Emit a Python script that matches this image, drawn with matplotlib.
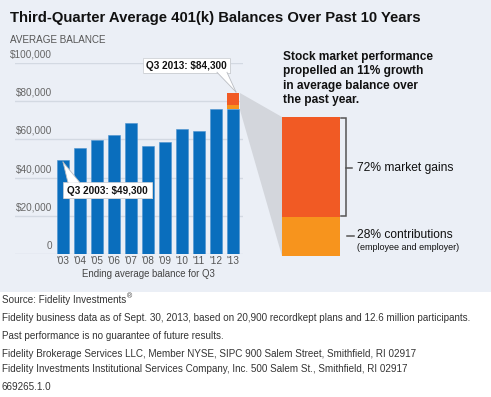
import matplotlib
matplotlib.use('Agg')
import matplotlib.pyplot as plt
from matplotlib.patches import Rectangle, Polygon
import matplotlib.transforms as mtrans

# ---------------- data ----------------
years = ["'03", "'04", "'05", "'06", "'07", "'08", "'09", "'10", "'11", "'12", "'13"]
balances = [49300, 55300, 59500, 62300, 68400, 56700, 58800, 65600, 64400, 75900, 84300]
growth_parts = ["market", "contributions"]
growth_shares = [72, 28]          # % of last year's growth
ytick_vals = [0, 20000, 40000, 60000, 80000, 100000]
ytick_labels = ["0", "$20,000", "$40,000", "$60,000", "$80,000", "$100,000"]

title = "Third-Quarter Average 401(k) Balances Over Past 10 Years"
heading = ["Stock market performance", "propelled an 11% growth",
           "in average balance over", "the past year."]
footer = ["Fidelity business data as of Sept. 30, 2013, based on 20,900 recordkept plans and 12.6 million participants.",
          "Past performance is no guarantee of future results.",
          "Fidelity Brokerage Services LLC, Member NYSE, SIPC 900 Salem Street, Smithfield, RI 02917",
          "Fidelity Investments Institutional Services Company, Inc. 500 Salem St., Smithfield, RI 02917",
          "669265.1.0"]

# ---------------- style ----------------
W, H = 491, 397
BG = '#ebeff6'
BLUE = '#0a6ebd'
RED = '#f15a24'
ORANGE = '#f7941d'
GRID = '#d3d9e2'
WEDGE = '#d3d6dc'
plt.rcParams['font.family'] = ['Liberation Sans', 'DejaVu Sans']

def pt(px):
    return px * 0.72

def fx(px):
    return px / W

def fy(py):
    return 1 - py / H

fig = plt.figure(figsize=(W / 100, H / 100), dpi=100)
fig.patch.set_facecolor('white')
fig.patches.append(Rectangle((0, fy(292)), 1, 292 / H, transform=fig.transFigure,
                             facecolor=BG, edgecolor='none', zorder=-10))

# ---------------- main bar chart ----------------
ax_l, ax_r, ax_t, ax_b = 15, 243, 63, 254
ax = fig.add_axes([fx(ax_l), fy(ax_b), (ax_r - ax_l) / W, (ax_b - ax_t) / H])
ax.set_facecolor('none')
step = 17.0
first_center = 63
ax.set_xlim((ax_l - first_center) / step, (ax_r - first_center) / step)
ax.set_ylim(0, 100000)
for s in ax.spines.values():
    s.set_visible(False)

xs = list(range(len(years)))
bw = 0.74
base = balances[:-1] + [balances[-2]]
ax.bar(xs, base, width=bw, color=BLUE, edgecolor='#4d93cf', linewidth=0.4, zorder=3)
growth = balances[-1] - balances[-2]
contrib = growth * growth_shares[1] / 100
market = growth * growth_shares[0] / 100
ax.bar(xs[-1], contrib, bottom=balances[-2], width=bw, color=ORANGE, zorder=3, linewidth=0)
ax.bar(xs[-1], market, bottom=balances[-2] + contrib, width=bw, color=RED, zorder=3, linewidth=0)

for v in ytick_vals:
    ax.axhline(v, color=GRID, lw=1.0, zorder=1)
ax.set_yticks([])
ytrans = mtrans.blended_transform_factory(ax.transAxes, ax.transData)
for v, lab in zip(ytick_vals, ytick_labels):
    ax.annotate(lab, xy=((52 - ax_l) / (ax_r - ax_l), v), xycoords=ytrans,
                xytext=(0, 2.5), textcoords='offset points',
                ha='right', va='bottom', fontsize=pt(10), color='#666666')

ax.set_xticks(xs)
ax.set_xticklabels(years, fontsize=pt(10), color='#555555')
ax.tick_params(axis='x', length=0, pad=1.5)

# ---------------- zoomed stacked bar ----------------
bx = fig.add_axes([fx(282), fy(256), 58 / W, 139 / H])
bx.set_facecolor('none')
bx.set_xlim(-0.5, 0.5)
bx.set_ylim(0, sum(growth_shares))
bx.bar(0, growth_shares[1], width=1, color=ORANGE, linewidth=0)
bx.bar(0, growth_shares[0], bottom=growth_shares[1], width=1, color=RED, linewidth=0)
bx.axis('off')

# ---------------- overlay (pixel coords) ----------------
ov = fig.add_axes([0, 0, 1, 1], zorder=10)
ov.set_xlim(0, W)
ov.set_ylim(H, 0)
ov.axis('off')
ov.patch.set_alpha(0)

ov.add_patch(Polygon([(240, 93), (282, 117), (282, 256), (240, 110)], closed=True,
                     facecolor=WEDGE, edgecolor='none', zorder=0))

ov.text(10, 18, title, fontsize=pt(14.9), fontweight='bold', color='#111111',
        ha='left', va='center')
ov.text(10, 40, "AVERAGE BALANCE", fontsize=pt(9.9), color='#555555',
        ha='left', va='center')
ov.text(148, 274, "Ending average balance for Q3", fontsize=pt(9.6), color='#444444',
        ha='center', va='center')

for i, line in enumerate(heading):
    ov.text(283, 57 + i * 14.3, line, fontsize=pt(11.9), fontweight='bold',
            color='#111111', ha='left', va='center')

# bracket
bc = '#555555'
ov.plot([341, 346, 346, 341], [118, 118, 216, 216], color=bc, lw=1.1, solid_joinstyle='miter')
ov.plot([346, 352], [168, 168], color=bc, lw=1.1)
ov.plot([347, 354], [236, 236], color=bc, lw=1.1)
ov.text(357, 168, f"{growth_shares[0]}% market gains", fontsize=pt(12), color='#111111',
        ha='left', va='center')
ov.text(357, 235, f"{growth_shares[1]}% contributions", fontsize=pt(12), color='#111111',
        ha='left', va='center')
ov.text(357, 248, "(employee and employer)", fontsize=pt(9), color='#111111',
        ha='left', va='center')


def callout(x0, x1, y0, y1, tri, text):
    ov.add_patch(Rectangle((x0 + 1, y0 + 1), x1 - x0, y1 - y0, facecolor='#c5c9d0',
                           edgecolor='none', zorder=5))
    ov.add_patch(Rectangle((x0, y0), x1 - x0, y1 - y0, facecolor='white',
                           edgecolor='#c8cbd0', lw=0.5, zorder=6))
    ov.add_patch(Polygon(tri, closed=True, facecolor='white', edgecolor='none', zorder=7))
    ov.plot([tri[0][0], tri[2][0]], [tri[0][1], tri[2][1]], color='#b9bcc2', lw=0.6, zorder=7)
    ov.plot([tri[1][0], tri[2][0]], [tri[1][1], tri[2][1]], color='#b9bcc2', lw=0.6, zorder=7)
    ov.text((x0 + x1) / 2, (y0 + y1) / 2 + 0.5, text, fontsize=pt(10), fontweight='bold',
            color='#111111', ha='center', va='center', zorder=8)


callout(63, 152, 182, 198, [(68, 182.7), (80, 182.7), (63, 162)],
        f"Q3 2003: ${balances[0]:,}")
callout(143, 230, 58, 73, [(217, 72.3), (227, 72.3), (236, 92)],
        f"Q3 2013: ${balances[-1]:,}")

# footer
ov.text(2, 300, "Source: Fidelity Investments", fontsize=pt(9.9), color='#333333',
        ha='left', va='center')
fig.canvas.draw()
src = ov.texts[-1]
bb = src.get_window_extent()
ov.text(bb.x1 + 0.5, 296.5, "®", fontsize=pt(7), color='#333333', ha='left', va='center')
for i, line in enumerate(footer):
    y = [318, 336, 354, 369, 387][i]
    ov.text(2, y, line, fontsize=pt(9.9), color='#333333', ha='left', va='center')

fig.savefig('out.png', dpi=100, facecolor=fig.get_facecolor())
